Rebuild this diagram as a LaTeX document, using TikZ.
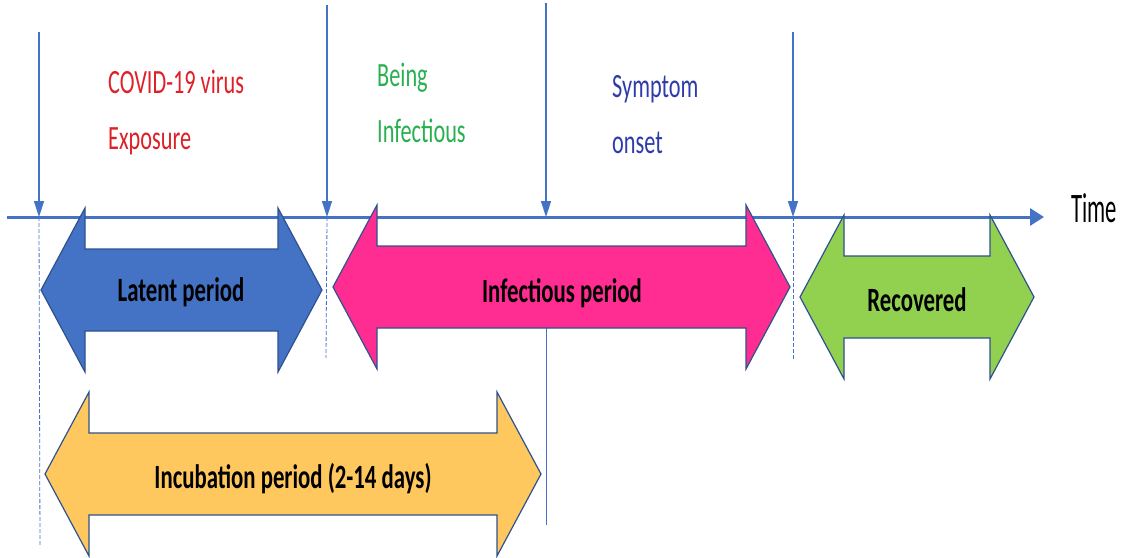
\documentclass[tikz,border=0pt]{standalone}
\usepackage{fontspec}
\setmainfont{Carlito}
\usepackage{graphicx}
\usetikzlibrary{arrows.meta}
\definecolor{axisblue}{RGB}{68,114,196}
\definecolor{outl}{RGB}{47,82,143}
\definecolor{latentfill}{RGB}{68,114,196}
\definecolor{pinkfill}{RGB}{255,45,145}
\definecolor{greenfill}{RGB}{146,208,80}
\definecolor{yellowfill}{RGB}{255,200,95}
\definecolor{txtred}{RGB}{222,32,40}
\definecolor{txtgreen}{RGB}{40,176,80}
\definecolor{txtblue}{RGB}{45,60,170}
\newcommand\narrowtxt[1]{\scalebox{0.655}[1]{#1}}
\newcommand\narrowtime[1]{\scalebox{0.54}[1]{#1}}
\newcommand\narrowbold[1]{\scalebox{0.67}[1]{#1}}
% name, left tip x, right tip x, centre y, fill
\newcommand\PeriodArrow[5]{%
  \coordinate (#1) at ({(#2+#3)/2},#4);
  \draw[periodarrow, fill=#5] (#2,#4) -- ({#2+44},{#4-82}) -- ({#2+44},{#4-41})
    -- ({#3-44},{#4-41}) -- ({#3-44},{#4-82}) -- (#3,#4) -- ({#3-44},{#4+82})
    -- ({#3-44},{#4+41}) -- ({#2+44},{#4+41}) -- ({#2+44},{#4+82}) -- cycle;}
\tikzset{
  axisline/.style={draw=axisblue, line width=3pt, -{Triangle[length=14pt,width=17pt]}},
  eventarrow/.style={draw=axisblue, line width=1.5pt, -{Triangle[length=16pt,width=10pt]}},
  guide/.style={draw=axisblue, line width=0.8pt, dash pattern=on 4pt off 2pt},
  thinline/.style={draw=axisblue, line width=1pt},
  periodarrow/.style={draw=outl, line width=1.2pt, line join=miter},
  eventtxt/.style={font=\fontsize{34}{56}\selectfont, inner sep=0pt, anchor=base west},
  timetxt/.style={font=\fontsize{42}{42}\selectfont, inner sep=0pt, anchor=base west},
  periodtxt/.style={font=\fontsize{34}{34}\selectfont\bfseries, inner sep=0pt, anchor=base, text=black},
}
\begin{document}
\begin{tikzpicture}[x=1pt, y=-1pt]
\useasboundingbox (0,0) rectangle (1121,557);
% axis
\coordinate (t0) at (7,217);
\coordinate (t1) at (1044,217);
\draw[axisline] (t0) -- (t1);
\node[timetxt, text=black] (time) at (1071,222) {\narrowtime{Time}};
% event points on the axis
\coordinate (e1) at (39,217);  \coordinate (e1top) at (39,32);
\coordinate (e2) at (327,217); \coordinate (e2top) at (327,5);
\coordinate (e3) at (546,217); \coordinate (e3top) at (546,3);
\coordinate (e4) at (793,217); \coordinate (e4top) at (793,32);
% guides
\coordinate (e1bot) at (40,547);
\coordinate (e2bot) at (326,358);
\coordinate (e4bot) at (793,360);
\coordinate (e3mid) at (546,328);
\coordinate (e3bot) at (546,525);
\draw[guide] (e1) -- (e1bot);
\draw[guide] (e2) -- (e2bot);
\draw[guide] (e4) -- (e4bot);
\draw[thinline] (e3mid) -- (e3bot);
% event arrows
\draw[eventarrow] (e1top) -- (e1);
\draw[eventarrow] (e2top) -- (e2);
\draw[eventarrow] (e3top) -- (e3);
\draw[eventarrow] (e4top) -- (e4);
% event labels
\node[eventtxt, text=txtred] (expo) at (108,93)
  {\narrowtxt{\begin{tabular}[t]{@{}l@{}}COVID-19 virus\\Exposure\end{tabular}}};
\node[eventtxt, text=txtgreen] (infect) at (377,86)
  {\narrowtxt{\begin{tabular}[t]{@{}l@{}}Being\\Infectious\end{tabular}}};
\node[eventtxt, text=txtblue] (sympt) at (612,97)
  {\narrowtxt{\begin{tabular}[t]{@{}l@{}}Symptom\\onset\end{tabular}}};
% period arrows
\PeriodArrow{latent}{41}{322}{290}{latentfill}
\PeriodArrow{infper}{333}{790}{287}{pinkfill}
\PeriodArrow{recov}{800}{1034}{297}{greenfill}
\PeriodArrow{incub}{45}{541}{474}{yellowfill}
\node[periodtxt] (latentlbl) at (181,301) {\narrowbold{Latent period}};
\node[periodtxt] (infperlbl) at (562,302) {\narrowbold{Infectious period}};
\node[periodtxt] (recovlbl) at (917,311) {\narrowbold{Recovered}};
\node[periodtxt] (incublbl) at (293,488) {\narrowbold{Incubation period (2-14 days)}};
\end{tikzpicture}
\end{document}
